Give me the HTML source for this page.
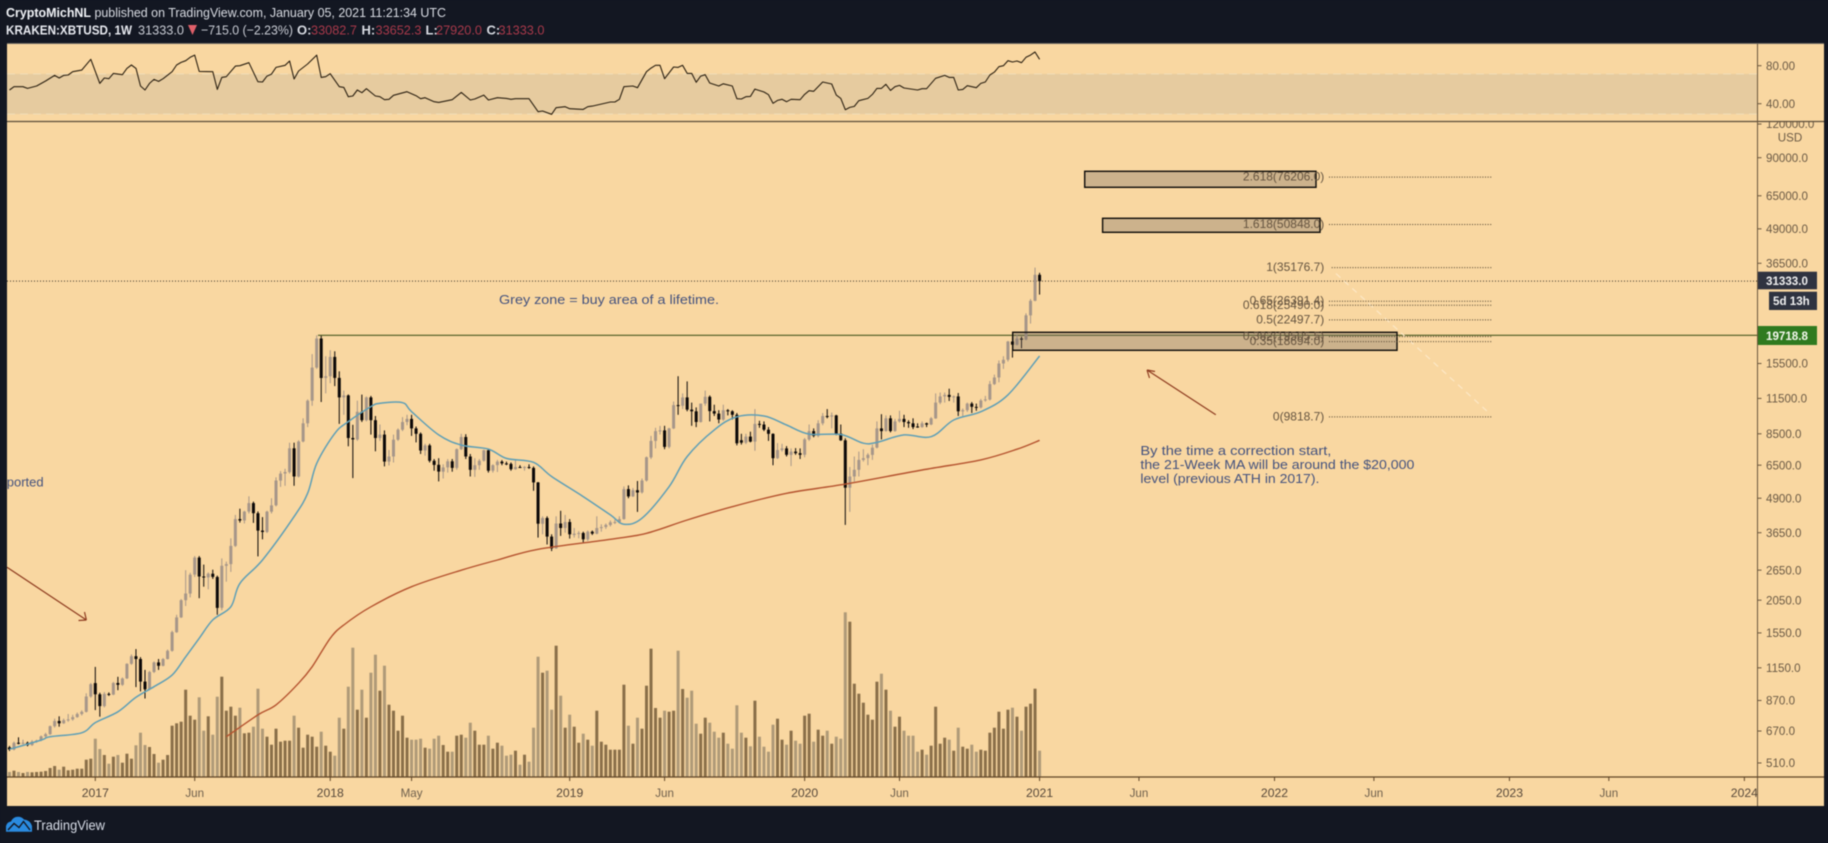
<!DOCTYPE html>
<html lang="en">
<head>
<meta charset="utf-8">
<title>KRAKEN:XBTUSD weekly chart</title>
<style>
html,body{margin:0;padding:0;background:#131722;width:1828px;height:843px;overflow:hidden}
svg{display:block;font-family:"Liberation Sans",sans-serif;filter:blur(0.4px)}
</style>
</head>
<body>
<svg id="chart" width="1828" height="843" viewBox="0 0 1828 843" xmlns="http://www.w3.org/2000/svg">
  <defs>
    <clipPath id="main-clip"><rect x="7" y="122" width="1750" height="655"/></clipPath>
    <clipPath id="rsi-clip"><rect x="7" y="44" width="1750" height="77"/></clipPath>
    <clipPath id="axis-clip"><rect x="1758" y="122" width="66" height="655"/></clipPath>
    <clipPath id="time-clip"><rect x="7" y="778" width="1750" height="28"/></clipPath>
  </defs>
  <rect x="0" y="0" width="1828" height="843" fill="#131722"/>
  <rect x="7" y="43.5" width="1817" height="762.5" fill="#f9d7a1"/>
  <line x1="7" y1="43.5" x2="1824" y2="43.5" stroke="#6e6a62" stroke-width="1"/>

  <text x="6" y="17" font-size="13" fill="#d9dce3" textLength="440" lengthAdjust="spacingAndGlyphs"><tspan font-weight="bold" fill="#f0f2f6">CryptoMichNL</tspan> published on TradingView.com, January 05, 2021 11:21:34 UTC</text>
  <text x="6" y="34.5" font-size="13" font-weight="bold" fill="#e8eaf0" textLength="126" lengthAdjust="spacingAndGlyphs">KRAKEN:XBTUSD, 1W</text>
  <text x="138" y="34.5" font-size="13" fill="#c9ccd4" textLength="46" lengthAdjust="spacingAndGlyphs">31333.0</text>
  <polygon points="188,25 197,25 192.5,35" fill="#e0606a"/>
  <text x="201" y="34.5" font-size="13" fill="#c9ccd4" textLength="92" lengthAdjust="spacingAndGlyphs">−715.0 (−2.23%)</text>
  <text x="297" y="34.5" font-size="13" font-weight="bold" fill="#d9dce3">O:</text>
  <text x="311" y="34.5" font-size="13" fill="#a8394a" textLength="46" lengthAdjust="spacingAndGlyphs">33082.7</text>
  <text x="361.5" y="34.5" font-size="13" font-weight="bold" fill="#d9dce3">H:</text>
  <text x="375.5" y="34.5" font-size="13" fill="#a8394a" textLength="46" lengthAdjust="spacingAndGlyphs">33652.3</text>
  <text x="425.5" y="34.5" font-size="13" font-weight="bold" fill="#d9dce3">L:</text>
  <text x="436" y="34.5" font-size="13" fill="#a8394a" textLength="46" lengthAdjust="spacingAndGlyphs">27920.0</text>
  <text x="486.5" y="34.5" font-size="13" font-weight="bold" fill="#d9dce3">C:</text>
  <text x="498.5" y="34.5" font-size="13" fill="#a8394a" textLength="46" lengthAdjust="spacingAndGlyphs">31333.0</text>

  <g id="rsi-pane" clip-path="url(#rsi-clip)"></g>
  <g id="main-pane" clip-path="url(#main-clip)"></g>

  <line x1="7" y1="121.5" x2="1824" y2="121.5" stroke="#5c4d3a" stroke-width="1.2"/>
  <line x1="1757.5" y1="44" x2="1757.5" y2="806" stroke="#6a563d" stroke-width="1"/>
  <line x1="7" y1="777" x2="1824" y2="777" stroke="#5f4527" stroke-width="1.2"/>

  <g id="rsi-axis"></g>
  <g id="price-axis" clip-path="url(#axis-clip)"></g>
  <g id="time-axis" clip-path="url(#time-clip)"></g>
  <text x="1790" y="141.5" font-size="11.6" fill="#6b5a45" text-anchor="middle">USD</text>

  <rect x="1758" y="271.7" width="59" height="17.6" fill="#2f3340"/>
  <text x="1766" y="285" font-size="11.6" font-weight="bold" fill="#f0f0f0">31333.0</text>
  <rect x="1769" y="291.7" width="48" height="18.3" fill="#2f3340"/>
  <text x="1773" y="305" font-size="11.6" font-weight="bold" fill="#f0f0f0">5d 13h</text>
  <rect x="1758" y="326" width="59" height="19" fill="#2f7a1f"/>
  <text x="1766" y="340" font-size="11.6" font-weight="bold" fill="#f4f8ee">19718.8</text>

  <path d="M6 831.7V826Q7 822 11 821.5Q13 816.7 18 816.7Q22 816.7 24 819.5Q30 820 32 826V831.7Z" fill="#2a8be0"/>
  <path d="M8 830L14 823.5L19 827.5L23.5 821.5L30 830" fill="none" stroke="#131722" stroke-width="1.4"/>
  <text x="34" y="830" font-size="14" fill="#d8dde8" textLength="71" lengthAdjust="spacingAndGlyphs">TradingView</text>
</svg>
<script>
/* Weeks start Aug 22 2016; index 19 = Jan 2 2017; index 228 = Jan 4 2021 */
var opens = [
583,572,606,604,606,594,612,618,640,652,
698,730,716,735,740,755,775,790,900,1009,
917,829,920,915,1010,995,1050,1190,1270,1240,
1022,957,1110,1205,1170,1240,1330,1560,1770,2050,
2170,2550,2950,2510,2490,2570,2500,1920,2750,2790,
3260,4100,4050,4370,4700,4310,3715,3670,4370,4610,
5700,6050,6130,7510,5900,7960,9300,11280,14970,19200,
13700,13900,16400,13700,11600,11800,8200,8100,10260,9550,
11600,9550,8200,8440,6700,7000,8080,8800,9400,9650,
8900,8500,7370,7700,6750,6520,6150,6380,6720,6350,
7450,8270,7000,6250,6500,6750,7380,6200,6500,6700,
6600,6570,6280,6400,6380,6400,6350,5610,3940,4140,
3530,3190,3950,3800,4000,3580,3620,3640,3450,3680,
3620,3800,3830,3900,3990,4000,4100,5300,4980,5250,
5150,5700,6950,8000,8700,8750,7600,8900,10860,10800,
11600,10450,10300,9400,11000,11660,10320,10100,9600,10400,
10300,10000,8050,7880,8300,7950,9250,9200,8800,8500,
6900,7400,7500,7100,7300,7200,7100,8100,8700,8350,
9300,9900,9850,9950,8520,8040,5360,5900,6250,6800,
6900,7100,7550,8900,8700,9700,8700,9450,9650,9400,
9300,9050,9000,9300,9200,9700,11100,11700,11850,11650,
11700,10300,10400,11000,10700,10650,11300,11400,13000,13750,
15500,16000,18700,18200,19200,19000,23400,26500,33082.7];
var highs = [
590,612,635,622,612,620,622,645,660,702,
745,760,745,775,770,785,800,925,1010,1159,
930,935,932,1020,1065,1060,1195,1290,1350,1260,
1130,1120,1215,1240,1250,1345,1580,1810,2070,2650,
2590,2990,2990,2780,2600,2660,2530,2930,2850,3480,
4250,4480,4400,4980,4760,4380,4170,4400,4900,5860,
6180,6300,7880,7880,8050,9700,11400,16800,19718.8,19650,
16500,17360,17200,14500,12300,11900,9180,11280,11880,11700,
11750,9900,9200,8750,7400,8440,8900,9800,10000,10000,
9050,8600,7800,7800,6850,6900,6550,6850,6850,7500,
8500,8470,7150,6900,6850,7420,7420,6550,6800,6790,
6700,6650,6800,6500,6450,6550,6430,5630,4200,4200,
3600,4200,4400,4250,4100,3800,3700,3680,3720,3720,
4200,3920,3950,4050,4080,4200,5420,5470,5350,5680,
5800,7000,8350,8950,9090,9100,8950,11200,13900,12000,
13300,11100,10650,11000,12300,11800,10900,10400,10900,10500,
10400,10150,8500,8500,8650,10500,9500,9450,9000,8530,
7850,7800,7650,7500,7520,7500,8200,9200,8900,9550,
10150,10500,10200,10000,9200,8180,6400,7000,7300,7450,
7200,7750,9450,10050,9950,9950,9650,10350,10000,9550,
9700,9300,9450,9350,9800,12000,12100,12100,12500,11800,
12050,10550,11100,11150,11000,11450,11750,13350,14100,15900,
16500,18800,19500,19900,19500,23800,26900,35176.7,33652.3];
var lows = [
565,568,598,598,588,590,606,614,632,648,
690,695,712,725,732,750,765,785,890,801,
757,820,905,910,950,985,1045,1180,975,940,
885,950,1100,1130,1165,1235,1320,1550,1760,1950,
2100,2500,2085,2300,2250,2460,1810,1880,2400,2610,
3230,3980,3950,4300,3970,2980,3450,3640,4300,4570,
5400,5450,6050,5450,5850,7900,9000,10800,14800,11150,
12000,13100,12780,9250,10000,7640,5820,8000,9400,9450,
8440,7320,8000,6430,6480,6650,8000,8700,9150,8350,
7900,7150,7050,6650,6200,5660,5800,6100,6150,6250,
7400,6850,5900,5880,6250,6700,6100,6100,6130,6500,
6500,6200,6250,6350,6200,6300,5220,3500,3600,3300,
3120,3180,3550,3650,3470,3500,3480,3360,3400,3580,
3600,3680,3770,3850,3930,3950,4080,4900,4950,4360,
5100,5650,6850,7500,8450,7450,7500,8850,10000,10500,
10300,9100,9000,9350,10800,9450,9900,9300,9500,9950,
9600,7700,7750,7780,7900,7350,8950,8700,8000,6500,
6850,7300,7000,6450,7100,6850,6950,8000,8250,8250,
9150,9700,8900,8400,8000,3900,4360,5650,5900,6700,
6500,6800,7500,8100,8650,8600,8650,9350,9000,8950,
8850,8950,8950,9000,9150,9650,10950,11100,11250,11100,
9900,9900,10250,10150,10350,10550,11180,11300,12900,13200,
14800,15750,16300,18100,17650,18900,21800,26400,27920];
var closes = [
572,606,604,606,594,612,618,640,652,698,
730,716,735,740,755,775,790,900,1000,917,
829,920,915,1010,995,1050,1190,1270,1240,1022,
957,1110,1205,1170,1240,1330,1560,1770,2050,2170,
2550,2950,2510,2490,2570,2500,1920,2750,2790,3260,
4100,4050,4370,4700,4310,3715,3670,4370,4610,5700,
6050,6130,7510,5900,7960,9300,11280,14970,19200,13700,
13900,16400,13700,11600,11800,8200,8100,10260,9550,11600,
9550,8200,8440,6700,7000,8080,8800,9400,9650,8900,
8500,7370,7700,6750,6520,6150,6380,6720,6350,7450,
8270,7000,6250,6500,6750,7380,6200,6500,6700,6600,
6570,6280,6400,6380,6400,6350,5610,3940,4140,3530,
3190,3950,3800,4000,3600,3620,3640,3450,3680,3620,
3800,3830,3900,3990,4000,4100,5300,4980,5250,5150,
5700,6950,8000,8700,8750,7600,8900,10860,10800,11600,
10450,10300,9400,11000,11660,10320,10100,9600,10400,10300,
10000,7840,7880,8300,7950,9250,9200,8800,8500,6900,
7400,7500,7100,7300,7200,7100,8100,8700,8350,9300,
9900,9850,9950,8520,8040,5360,5900,6250,6800,6900,
7100,7550,8900,8700,9700,8700,9450,9650,9400,9300,
9000,9000,9300,9200,9700,11100,11700,11850,11650,11700,
10300,10400,11000,10700,10650,11300,11400,13000,13750,15500,
16000,18700,18200,19200,19000,23400,26500,33082.7,31333];
var volumes = [
15,19,15,12,15,14,15,16,18,27,33,22,31,20,22,25,25,52,55,115,
84,66,40,61,66,43,70,55,95,133,96,90,69,43,52,66,154,161,166,262,
184,172,239,139,182,127,241,301,199,211,184,208,131,133,151,265,145,121,97,145,
106,109,109,184,148,88,127,121,91,136,94,76,64,178,145,271,388,202,262,178,
313,367,259,334,217,199,139,184,118,112,112,115,88,85,115,124,96,76,76,124,
127,118,163,139,97,97,124,85,103,94,64,67,79,37,67,46,148,361,313,319,
202,394,244,148,187,151,103,130,112,94,199,106,97,82,82,82,277,154,100,178,
145,274,385,207,178,199,196,199,379,264,238,259,160,130,178,163,136,118,133,100,
85,215,133,118,92,229,121,91,76,157,175,112,97,139,109,100,184,190,106,142,
124,139,100,121,115,494,466,280,250,223,187,172,286,310,262,199,151,181,139,124,
124,76,82,67,94,211,100,118,112,79,148,91,85,97,76,82,79,133,148,196,
145,202,208,181,139,211,220,265,79];

var ma21Weeks = [0,7,9,16,19,24,28,32,36,39,42,45,49,51,56,63,66,68,72,75,80,82,87,89,95,100,106,110,116,120,127,133,136,140,146,150,156,161,167,172,177,184,189,192,198,204,209,215,221,228];
var ma21Values = [573,620,638,660,720,790,894,979,1081,1264,1480,1732,1938,2367,2890,4190,5110,6600,8530,9430,10720,11030,11090,10270,8420,7720,7460,6890,6660,5900,4970,4250,3925,4130,5410,7000,8790,9830,9900,9160,8480,8450,7840,7900,8420,8290,9560,10270,11850,16520];

var ma200Weeks = [48,55,59,64,67,71,74,80,89,100,108,117,133,141,150,160,172,185,202,215,223,228];
var ma200Values = [638,769,838,1008,1161,1480,1659,1938,2300,2650,2890,3166,3450,3630,4070,4560,5110,5530,6240,6800,7450,8040];

var rsiWeeks = [0,1,3,4,6,8,10,11,12,13,14,16,18,20,21,22,23,25,26,27,28,29,30,31,32,33,34,36,37,38,39,40,41,42,45,46,47,48,50,51,53,55,56,57,58,59,61,62,63,64,66,68,69,70,71,73,74,75,76,77,78,79,81,82,83,84,85,88,90,91,92,94,95,98,100,102,103,105,106,108,110,111,112,115,117,118,120,121,123,124,127,128,129,133,134,135,136,138,139,141,142,143,144,145,147,148,149,150,151,152,153,154,155,157,158,160,161,162,163,164,165,167,168,169,170,171,172,173,175,176,177,178,180,182,183,184,185,186,187,188,190,191,192,193,194,195,196,197,198,201,202,203,205,207,208,209,210,211,212,214,215,216,217,218,219,220,221,222,223,224,225,226,227,228];
var rsiValues = [54.4,57.9,57.9,56.1,58.6,63.9,69.8,67,69.8,70.2,73.7,75.4,86.7,61.4,67,66.3,71.9,70.5,77.2,80.7,77.2,58.6,54.4,61.4,65.6,63.5,66.3,73.7,80.7,83.5,85.3,88.8,91.2,74,73.7,55.1,67.7,68.4,79.6,80,83.2,63.2,62.8,69.1,71.2,78.2,80.4,84.9,66,74.4,81.8,91.2,67.7,68.4,71.6,57.9,57.2,47.4,48.1,54.4,51.6,55.8,48.1,47.4,44.2,44.6,48.8,52.6,48.4,45.3,46.3,42.1,41.4,44.2,51.9,43.9,44.9,49.1,43.9,46.3,45.6,44.6,45.3,45.3,31.6,32.3,28.8,35.8,36.8,34.7,34,36.8,37.5,41.8,41.8,44.6,57.9,58.6,56.8,73.7,77.5,80.4,80.4,66.3,78.6,78.2,80.4,71.9,71.9,62.5,69.1,70.5,61.8,58.6,61,58.6,45.3,44.9,47.4,47.7,55.4,52.3,49.5,40.4,43.5,44.6,42.1,44.6,44.2,49.8,53.7,53,62.8,60.7,49.1,45.6,33.7,36.1,37.2,43.2,45.6,49.8,56.1,56.1,60.4,54,57.9,59.3,56.5,54.4,55.8,55.8,66.7,69.8,67.7,67.7,54.4,55.1,58.9,56.8,61.4,62.8,70.2,73.3,78.9,80,85.3,83.9,84.9,83.2,88.8,91.2,94.4,86.7];
var rsiBandLimits = [71.3,29.1];
var rsiTicks = [80,40];

var priceTicks = [120000,90000,65000,49000,36500,15500,11500,8500,6500,4900,3650,2650,2050,1550,1150,870,670,510];
var timeTickWeeks = [19,41,71,89,124,145,176,197,228,250,280,302,332,354,384];
var timeTickLabels = ['2017','Jun','2018','May','2019','Jun','2020','Jun','2021','Jun','2022','Jun','2023','Jun','2024'];

var fibRatios = ['2.618','1.618','1','0.65','0.618','0.5','0.382','0.35','0'];
var fibPrices = [76206.0,50848.0,35176.7,26391.4,25490.0,22497.7,19505.5,18694.0,9818.7];

var lastPrice = 31333;
var athPrice = 19718.8;

var SVGNS = 'http://www.w3.org/2000/svg';
function xOf(i){ return 95.3 + (i - 19) * 4.518; }
function yPrice(p){ return 157.7 + 117 * (Math.log(90000) - Math.log(p)); }
function yRsi(v){ return 65.7 + (80 - v) * 0.95; }
function yVol(v){ return 777 - v / 3; }
function mk(tag, attrs, parent){
  var el = document.createElementNS(SVGNS, tag);
  for (var k in attrs) el.setAttribute(k, attrs[k]);
  parent.appendChild(el);
  return el;
}
function linePoints(weeks, values, yFn){
  return weeks.map(function(w, j){ return xOf(w).toFixed(1) + ',' + yFn(values[j]).toFixed(1); }).join(' ');
}
function smoothPath(weeks, values, yFn){
  var pts = weeks.map(function(w, j){ return [xOf(w), yFn(values[j])]; });
  var d = 'M' + pts[0][0].toFixed(1) + ' ' + pts[0][1].toFixed(1);
  for (var j = 0; j < pts.length - 1; j++) {
    var p0 = pts[Math.max(j - 1, 0)], p1 = pts[j], p2 = pts[j + 1], p3 = pts[Math.min(j + 2, pts.length - 1)];
    d += 'C' + (p1[0] + (p2[0] - p0[0]) / 6).toFixed(1) + ' ' + (p1[1] + (p2[1] - p0[1]) / 6).toFixed(1) + ' ' +
         (p2[0] - (p3[0] - p1[0]) / 6).toFixed(1) + ' ' + (p2[1] - (p3[1] - p1[1]) / 6).toFixed(1) + ' ' +
         p2[0].toFixed(1) + ' ' + p2[1].toFixed(1);
  }
  return d;
}

var rsiPane = document.getElementById('rsi-pane');
var mainPane = document.getElementById('main-pane');
var rsiAxis = document.getElementById('rsi-axis');
var priceAxis = document.getElementById('price-axis');
var timeAxis = document.getElementById('time-axis');

/* RSI pane */
var bandTop = yRsi(rsiBandLimits[0]);
var bandBottom = yRsi(rsiBandLimits[1]);
var band = mk('rect', {x:7, y:bandTop, width:1750, height:bandBottom - bandTop, fill:'#e6cb9f'}, rsiPane);


[bandTop, bandBottom].forEach(function(y){
  var l = mk('line', {x1:7, x2:1757, y1:y, y2:y, stroke:'#efdcb8', 'stroke-width':1, 'stroke-dasharray':'8 5'}, rsiPane);
  
  
});
var rsiLine = mk('polyline', {points:linePoints(rsiWeeks, rsiValues, yRsi), fill:'none', stroke:'#2b2011', 'stroke-width':1.1, 'stroke-linejoin':'round'}, rsiPane);


rsiTicks.forEach(function(v){
  var y = yRsi(v);
  var t = mk('line', {x1:1757.5, x2:1761.5, y1:y, y2:y, stroke:'#6a563d'}, rsiAxis);
  
  
  var lab = mk('text', {x:1766, y:y + 4.2, 'font-size':11.6, fill:'#6b5a45'}, rsiAxis);
  lab.textContent = v.toFixed(2);
  
  
});

/* Volume */
volumes.forEach(function(v, i){
  var up = closes[i] >= opens[i];
  var b = mk('rect', {x:(xOf(i) - 1.5).toFixed(2), y:yVol(v).toFixed(1), width:3, height:(777 - yVol(v)).toFixed(1), fill:up ? '#8a6f49' : '#af9a78'}, mainPane);
  
  
});

/* Reference lines */
var lastLine = mk('line', {x1:7, x2:1757, y1:yPrice(lastPrice), y2:yPrice(lastPrice), stroke:'#3b3328', 'stroke-width':1, 'stroke-dasharray':'1 2'}, mainPane);


var athLine = mk('line', {x1:xOf(68) + 1.3, x2:1757, y1:yPrice(athPrice), y2:yPrice(athPrice), stroke:'#4a5a20', 'stroke-width':1.2}, mainPane);



/* Candles */
opens.forEach(function(o, i){
  var c = closes[i];
  var col = c >= o ? '#a69689' : '#0b0808';
  var x = xOf(i);
  var wick = mk('line', {x1:x.toFixed(2), x2:x.toFixed(2), y1:yPrice(highs[i]).toFixed(1), y2:yPrice(lows[i]).toFixed(1), stroke:col, 'stroke-width':1}, mainPane);
  
  
  var top = yPrice(Math.max(o, c));
  var h = Math.max(yPrice(Math.min(o, c)) - top, 1);
  var body = mk('rect', {x:(x - 1.5).toFixed(2), y:top.toFixed(1), width:3, height:h.toFixed(1), fill:col}, mainPane);
  
  
});

/* Moving averages */
var ma21 = mk('path', {d:smoothPath(ma21Weeks, ma21Values, yPrice), fill:'none', stroke:'#5f9fb6', 'stroke-width':1.5, 'stroke-linejoin':'round'}, mainPane);


var ma200 = mk('path', {d:smoothPath(ma200Weeks, ma200Values, yPrice), fill:'none', stroke:'#b5532f', 'stroke-width':1.4, 'stroke-linejoin':'round'}, mainPane);



/* Zones */
var zoneFill = 'rgba(120,110,100,0.35)';
var zone1 = mk('rect', {x:1084.7, y:171.3, width:231.3, height:16, fill:zoneFill, stroke:'#0c0a08', 'stroke-width':1.4}, mainPane);


var zone2 = mk('rect', {x:1102.6, y:218.3, width:217.4, height:14, fill:zoneFill, stroke:'#0c0a08', 'stroke-width':1.4}, mainPane);


var zone3 = mk('rect', {x:1012.7, y:332.3, width:384.3, height:18, fill:zoneFill, stroke:'#0c0a08', 'stroke-width':1.4}, mainPane);



/* Fibonacci */
var fibTrend = mk('line', {x1:1336, y1:273.6, x2:1488, y2:412, stroke:'#fde8c6', 'stroke-width':1.2, 'stroke-dasharray':'6 5'}, mainPane);


fibPrices.forEach(function(p, i){
  var y = yPrice(p);
  var l = mk('line', {x1:fibRatios[i] === '1' ? 1331.7 : 1329, x2:1492.4, y1:y, y2:y, stroke:'#4e412e', 'stroke-width':1, 'stroke-dasharray':'1 1.6'}, mainPane);
  
  
  var t = mk('text', {x:1324.3, y:(y + 3.5).toFixed(1), 'font-size':12, fill:'#655440', 'text-anchor':'end'}, mainPane);
  t.textContent = fibRatios[i] + '(' + p.toFixed(1) + ')';
  
  
});

/* Annotations */
var noteColor = '#44527e';
var note1 = mk('text', {x:499, y:304, 'font-size':13, fill:noteColor, textLength:220, lengthAdjust:'spacingAndGlyphs'}, mainPane);
note1.textContent = 'Grey zone = buy area of a lifetime.';


var note2 = mk('text', {x:43.6, y:486.5, 'font-size':13, fill:noteColor, 'text-anchor':'end'}, mainPane);
note2.textContent = 'supported';


var note3 = mk('text', {x:1140.4, y:455, 'font-size':13, fill:noteColor, textLength:191, lengthAdjust:'spacingAndGlyphs'}, mainPane);
note3.textContent = 'By the time a correction start,';


var note4 = mk('text', {x:1140.4, y:469, 'font-size':13, fill:noteColor, textLength:274, lengthAdjust:'spacingAndGlyphs'}, mainPane);
note4.textContent = 'the 21-Week MA will be around the $20,000';


var note5 = mk('text', {x:1140.4, y:483, 'font-size':13, fill:noteColor, textLength:179, lengthAdjust:'spacingAndGlyphs'}, mainPane);
note5.textContent = 'level (previous ATH in 2017).';



var arrowColor = '#8e3b1f';
var arrow1 = mk('path', {d:'M1215.8 414.7L1147 370M1147 370L1155 371.5M1147 370L1149.5 378', fill:'none', stroke:arrowColor, 'stroke-width':1.2}, mainPane);


var arrow2 = mk('path', {d:'M7 567.3L86.4 620M86.4 620L78.5 620.5M86.4 620L84.5 612', fill:'none', stroke:arrowColor, 'stroke-width':1.2}, mainPane);



/* Axes */
priceTicks.forEach(function(p){
  var y = yPrice(p);
  var t = mk('line', {x1:1757.5, x2:1761.5, y1:y, y2:y, stroke:'#6a563d'}, priceAxis);
  
  
  var lab = mk('text', {x:1766, y:(y + 4.2).toFixed(1), 'font-size':11.6, fill:'#6b5a45'}, priceAxis);
  lab.textContent = p.toFixed(1);
  
  
});
timeTickWeeks.forEach(function(w, i){
  var x = xOf(w);
  var isYear = /^\d+$/.test(timeTickLabels[i]);
  var t = mk('line', {x1:x, x2:x, y1:777, y2:781, stroke:'#5f4527'}, document.getElementById('chart'));
  
  
  var lab = mk('text', {x:x, y:797, 'font-size':isYear ? 12.2 : 11.6, fill:isYear ? '#57483a' : '#6f604d', 'text-anchor':'middle'}, timeAxis);
  lab.textContent = timeTickLabels[i];
  
  
});
</script>
</body>
</html>
